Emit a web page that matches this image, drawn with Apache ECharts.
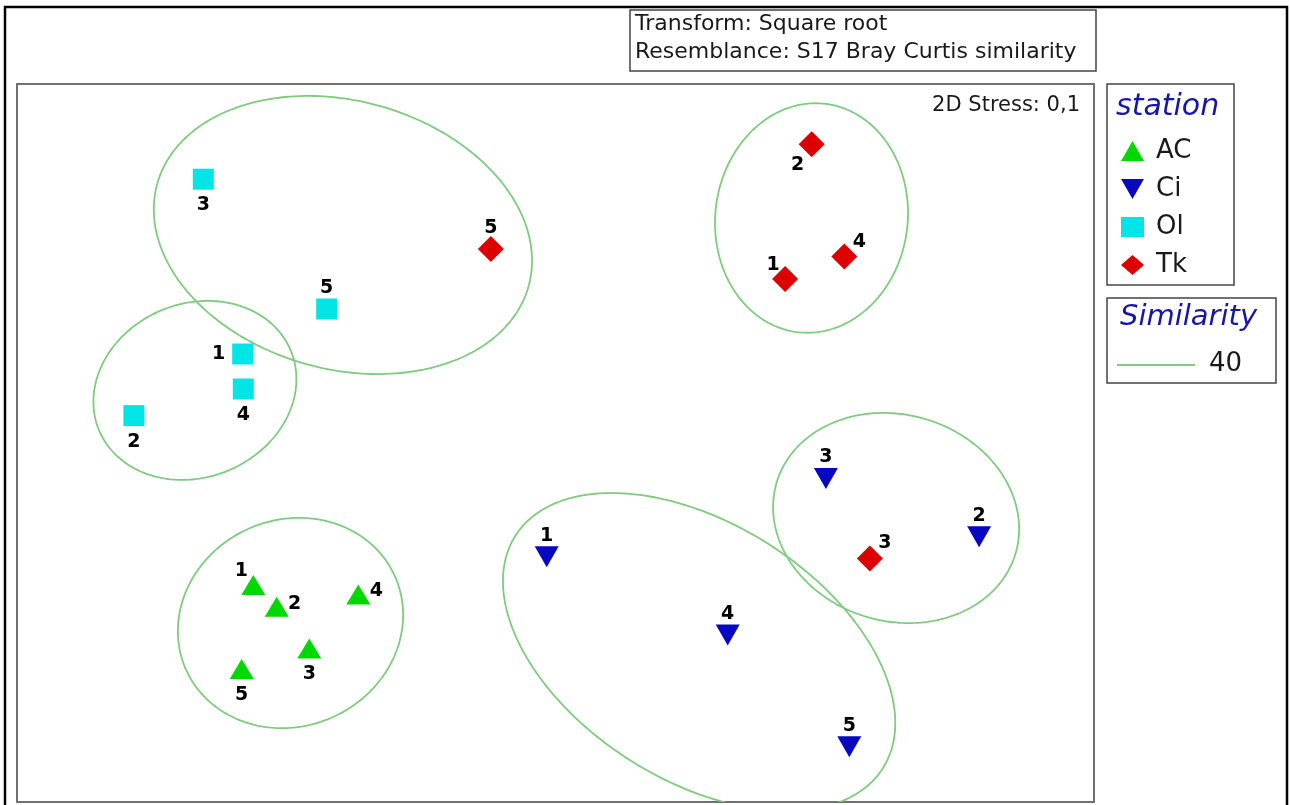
<!DOCTYPE html>
<html>
<head>
<meta charset="utf-8">
<script src="https://cdn.jsdelivr.net/npm/echarts@6/dist/echarts.min.js"></script>
<style>
html,body{margin:0;padding:0;background:#fff;}
#chart{width:1290px;height:805px;}
</style>
</head>
<body>
<div id="chart"></div>
<script>
// ---- data (nMDS coordinates, arbitrary units) ----
const stations = ['AC', 'Ci', 'Ol', 'Tk'];
const sampleIds = ['1', '2', '3', '4', '5'];

const acX = [-1.511, -1.394, -1.231, -0.986, -1.569];
const acY = [-0.710, -0.819, -1.027, -0.757, -1.130];
const ciX = [-0.044, 2.118, 1.352, 0.861, 1.469];
const ciY = [-0.569, -0.469, -0.177, -0.960, -1.519];
const olX = [-1.564, -2.108, -1.761, -1.561, -1.144];
const olY = [0.445, 0.137, 1.319, 0.270, 0.670];
const tkX = [1.148, 1.281, 1.572, 1.444, -0.323];
const tkY = [0.820, 1.494, -0.577, 0.932, 0.970];

// label placement codes per sample
const acLabelPlace = ['TL', 'R', 'B', 'R', 'B'];
const ciLabelPlace = ['T', 'T', 'T', 'T', 'T'];
const olLabelPlace = ['L', 'B', 'B', 'B', 'T'];
const tkLabelPlace = ['TL', 'BL', 'TR', 'TR', 'T'];

// similarity 40 contours: centre x, centre y, radius x, radius y, rotation (deg)
const contourCx = [-1.063, -1.803, -1.325, 1.280, 0.718, 1.703];
const contourCy = [1.040, 0.263, -0.900, 1.125, -1.045, -0.375];
const contourRx = [0.963, 0.519, 0.572, 0.481, 1.087, 0.623];
const contourRy = [0.671, 0.434, 0.516, 0.575, 0.642, 0.516];
const contourAngle = [-15.3, 22.5, 24, -7, -32.3, -16.5];
const similarityLevel = '40';

const titleLines = ['Transform: Square root', 'Resemblance: S17 Bray Curtis similarity'];
const stressText = '2D Stress: 0,1';

// ---- build ----
const FONT = 'DejaVu Sans';
const labelOffsets = {
  T: [0, -21], B: [0, 26], L: [-24, 0], R: [18, -3],
  TL: [-12, -14], TR: [15, -15], BL: [-14, 21]
};
function buildPoints(xs, ys, places) {
  return xs.map(function (x, i) {
    return {
      name: sampleIds[i],
      value: [x, ys[i]],
      label: { position: 'inside', offset: labelOffsets[places[i]] }
    };
  });
}
const contourData = contourCx.map(function (cx, i) {
  return [cx, contourCy[i], contourRx[i], contourRy[i], contourAngle[i]];
});

const downTri = 'path://M0,0L24,0L12,21Z';
const pointLabel = {
  show: true, formatter: '{b}', color: '#000',
  fontFamily: FONT, fontWeight: 'bold', fontSize: 19
};

const chart = echarts.init(document.getElementById('chart'), null, { renderer: 'canvas' });
chart.setOption({
  animation: false,
  backgroundColor: '#fff',
  grid: {
    left: 17, top: 84, width: 1077, height: 718,
    show: true, borderColor: '#707070', borderWidth: 2, backgroundColor: '#fff'
  },
  xAxis: { type: 'value', min: -2.6925, max: 2.6925, show: false, splitLine: { show: false } },
  yAxis: { type: 'value', min: -1.795, max: 1.795, show: false, splitLine: { show: false } },
  legend: {
    orient: 'vertical', left: 1116, top: 133,
    itemWidth: 23, itemHeight: 20, itemGap: 12,
    selectedMode: false,
    textStyle: { fontFamily: FONT, fontSize: 26, color: '#1a1a1a', padding: [0, 0, 0, 7] },
    data: stations
  },
  series: [
    {
      type: 'custom', name: 'contours', clip: true, z: 1,
      encode: { x: 0, y: 1 },
      data: contourData,
      renderItem: function (params, api) {
        const cx = api.value(0), cy = api.value(1), rx = api.value(2), ry = api.value(3);
        const ang = api.value(4) * Math.PI / 180;
        const pts = [];
        for (let k = 0; k < 240; k++) {
          const t = k / 240 * 2 * Math.PI;
          const ex = rx * Math.cos(t), ey = ry * Math.sin(t);
          pts.push(api.coord([cx + ex * Math.cos(ang) - ey * Math.sin(ang),
                              cy + ex * Math.sin(ang) + ey * Math.cos(ang)]));
        }
        return { type: 'polygon', shape: { points: pts }, style: { fill: 'none', stroke: '#7fcb7f', lineWidth: 1.8 } };
      }
    },
    { type: 'scatter', name: 'AC', z: 3, symbol: 'triangle', symbolSize: [24, 20],
      itemStyle: { color: '#00d800', opacity: 1 }, label: pointLabel, data: buildPoints(acX, acY, acLabelPlace) },
    { type: 'scatter', name: 'Ci', z: 3, symbol: downTri, symbolSize: [24, 21],
      itemStyle: { color: '#0808c0', opacity: 1 }, label: pointLabel, data: buildPoints(ciX, ciY, ciLabelPlace) },
    { type: 'scatter', name: 'Ol', z: 3, symbol: 'rect', symbolSize: [21, 21],
      itemStyle: { color: '#00e6e6', opacity: 1 }, label: pointLabel, data: buildPoints(olX, olY, olLabelPlace) },
    { type: 'scatter', name: 'Tk', z: 3, symbol: 'diamond', symbolSize: [26, 26],
      itemStyle: { color: '#dc0000', opacity: 1 }, label: pointLabel, data: buildPoints(tkX, tkY, tkLabelPlace) }
  ],
  graphic: [
    { type: 'rect', z: 100, shape: { x: 5, y: 7, width: 1282, height: 830 },
      style: { fill: 'none', stroke: '#000', lineWidth: 2.5 } },
    { type: 'rect', z: 100, shape: { x: 630, y: 10, width: 466, height: 61 },
      style: { fill: '#fff', stroke: '#444', lineWidth: 1.5 } },
    { type: 'text', z: 101, style: { x: 635, y: 24, text: titleLines[0], font: '22px "DejaVu Sans"', fill: '#1a1a1a', align: 'left', verticalAlign: 'middle' } },
    { type: 'text', z: 101, style: { x: 635, y: 52, text: titleLines[1], font: '22px "DejaVu Sans"', fill: '#1a1a1a', align: 'left', verticalAlign: 'middle' } },
    { type: 'text', z: 101, style: { x: 1080, y: 106, text: stressText, font: '21px "DejaVu Sans"', fill: '#1a1a1a', align: 'right', verticalAlign: 'middle' } },
    { type: 'rect', z: 100, shape: { x: 1107, y: 84, width: 127, height: 201 },
      style: { fill: 'none', stroke: '#444', lineWidth: 1.5 } },
    { type: 'text', z: 101, style: { x: 1116, y: 107, text: 'station', font: 'italic 30px "DejaVu Sans"', fill: '#1616a8', align: 'left', verticalAlign: 'middle' } },
    { type: 'rect', z: 100, shape: { x: 1107, y: 298, width: 169, height: 85 },
      style: { fill: 'none', stroke: '#444', lineWidth: 1.5 } },
    { type: 'text', z: 101, style: { x: 1120, y: 317, text: 'Similarity', font: 'italic 29px "DejaVu Sans"', fill: '#1616a8', align: 'left', verticalAlign: 'middle' } },
    { type: 'line', z: 101, shape: { x1: 1117, y1: 365, x2: 1195, y2: 365 },
      style: { stroke: '#7fcb7f', lineWidth: 1.8 } },
    { type: 'text', z: 101, style: { x: 1209, y: 364, text: similarityLevel, font: '26px "DejaVu Sans"', fill: '#1a1a1a', align: 'left', verticalAlign: 'middle' } }
  ]
});
</script>
</body>
</html>
